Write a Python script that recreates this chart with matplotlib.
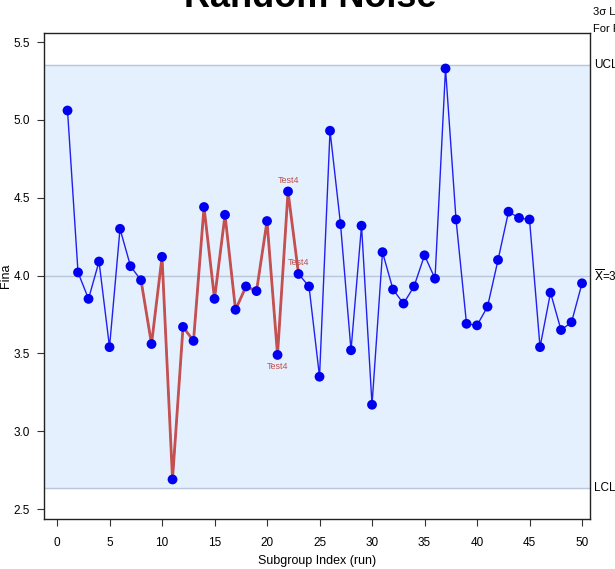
import matplotlib
matplotlib.use("Agg")
import matplotlib.pyplot as plt
import numpy as np

plt.rcParams['font.family'] = ['Liberation Sans Narrow', 'Liberation Sans', 'DejaVu Sans']

runs = list(range(1, 51))
values = [5.06, 4.02, 3.85, 4.09, 3.54, 4.30, 4.06, 3.97, 3.56, 4.12,
          2.69, 3.67, 3.58, 4.44, 3.85, 4.39, 3.78, 3.93, 3.90, 4.35,
          3.49, 4.54, 4.01, 3.93, 3.35, 4.93, 4.33, 3.52, 4.32, 3.17,
          4.15, 3.91, 3.82, 3.93, 4.13, 3.98, 5.33, 4.36, 3.69, 3.68,
          3.80, 4.10, 4.41, 4.37, 4.36, 3.54, 3.89, 3.65, 3.70, 3.95]
ucl = 5.355
center = 3.995
lcl = 2.635
flag_start, flag_end = 8, 23          # runs joined by the red "Test4" segment
test_labels = [(21, 'below'), (22, 'above'), (23, 'above')]
xticks = [0, 5, 10, 15, 20, 25, 30, 35, 40, 45, 50]
yticks = [2.5, 3.0, 3.5, 4.0, 4.5, 5.0, 5.5]

fig = plt.figure(figsize=(6.15, 5.69), dpi=100)
ax = fig.add_axes([44/615, 1-519/569, (590-44)/615, (519-33)/569])

ax.set_xlim(-1.24, 50.76)
ax.set_ylim(2.436, 5.558)

ax.axhspan(lcl, ucl, color='#E5F0FE', zorder=0)
for v in (ucl, center, lcl):
    ax.axhline(v, color='#B9C7DA', lw=1.0, zorder=1)

x = np.array(runs)
y = np.array(values)
ax.plot(x, y, color='#2020F0', lw=1.0, zorder=2)
i0, i1 = flag_start - 1, flag_end
ax.plot(x[i0:i1], y[i0:i1], color='#C45050', lw=2.0, zorder=3)
ax.scatter(x, y, s=50, color='#0000F0', zorder=4, edgecolors='none')

for r, pos in test_labels:
    yy = values[r-1]
    if pos == 'above':
        ax.annotate('Test4', (r, yy), xytext=(0, 5), textcoords='offset points',
                    ha='center', va='bottom', fontsize=6.5, color='#C0504D')
    else:
        ax.annotate('Test4', (r, yy), xytext=(0, -5), textcoords='offset points',
                    ha='center', va='top', fontsize=6.5, color='#C0504D')

ax.set_xticks(xticks)
ax.set_yticks(yticks)
ax.set_yticklabels([f'{t:.1f}' for t in yticks])
ax.tick_params(axis='both', labelsize=8.5, length=5, direction='out', color='#333333')
ax.tick_params(axis='x', pad=8)
ax.tick_params(axis='y', pad=5)
for s in ax.spines.values():
    s.set_color('#222222')
    s.set_linewidth(1.0)

ax.set_xlabel('Subgroup Index (run)', fontsize=9, labelpad=4)
ax.set_ylabel('Fina', fontsize=9)
ax.yaxis.set_label_coords(-0.058, 0.5)

tr = ax.get_yaxis_transform()
ax.text(1.008, ucl, 'UCL', transform=tr, va='center', ha='left', fontsize=8.5, clip_on=False)
ax.text(1.008, center, r'$\overline{\mathrm{X}}$=3.995', transform=tr, va='center', ha='left', fontsize=8.5, clip_on=False)
ax.text(1.008, lcl, 'LCL', transform=tr, va='center', ha='left', fontsize=8.5, clip_on=False)

fig.text(593/615, 1-12/569, '3σ Limits', fontsize=8, ha='left', va='center')
fig.text(593/615, 1-29/569, 'For Fina', fontsize=8, ha='left', va='center')
fig.text(310/615, 1-7/569, 'Random Noise', fontsize=26, fontweight='bold',
         ha='center', va='baseline', family=['Liberation Sans', 'DejaVu Sans'])

fig.savefig('out.png', dpi=100)
